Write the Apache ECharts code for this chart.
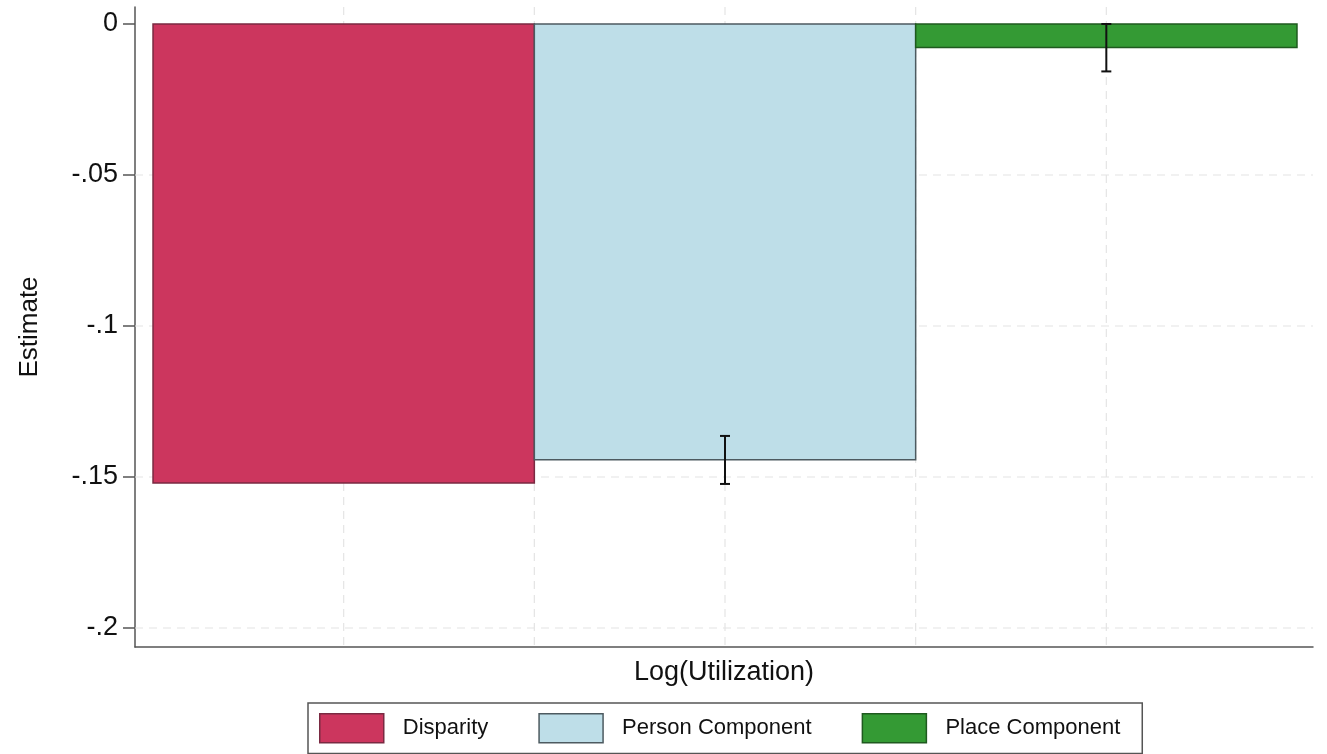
<!DOCTYPE html>
<html>
<head>
<meta charset="utf-8">
<script src="https://cdn.jsdelivr.net/npm/echarts@6/dist/echarts.min.js"></script>
<style>
  html, body { margin: 0; padding: 0; background: #fff; }
  #chart { width: 1327px; height: 754px; }
</style>
</head>
<body>
<div id="chart"></div>
<script>
// values
const categories = ['Disparity', 'Person Component', 'Place Component'];
const estimates = [-0.152, -0.1443, -0.0078];
const ciLower = [null, -0.1523, -0.0157];
const ciUpper = [null, -0.1364, 0.0];
const yTicks = [0, -0.05, -0.1, -0.15, -0.2];
const yTickLabels = ['0', '-.05', '-.1', '-.15', '-.2'];
const xGridAt = [1, 2, 3, 4, 5];   // bar centres and bar boundaries (bar i spans 2i..2i+2)

const fills = ['#cc365e', '#bedee8', '#349a34'];
const borders = ['#7a2a42', '#4d5a60', '#1f5a1f'];
const FONT = "'Liberation Sans', Arial, Helvetica, sans-serif";
const TEXT = '#111';

const chart = echarts.init(document.getElementById('chart'));

const gridStyle = { stroke: '#e4e4e4', lineWidth: 1.2, lineDash: [8, 6] };

// dashed background grid drawn from the scales
const hGridSeries = {
  type: 'custom',
  z: 1,
  silent: true,
  data: yTicks.slice(1).map(v => [0, v]),
  renderItem: (params, api) => {
    const cs = params.coordSys;
    const y = api.coord([0, api.value(1)])[1];
    return { type: 'line', shape: { x1: cs.x, y1: y, x2: cs.x + cs.width, y2: y }, style: gridStyle };
  }
};
const vGridSeries = {
  type: 'custom',
  z: 1,
  silent: true,
  data: xGridAt.map(v => [v, 0]),
  renderItem: (params, api) => {
    const cs = params.coordSys;
    const x = api.coord([api.value(0), 0])[0];
    return { type: 'line', shape: { x1: x, y1: cs.y, x2: x, y2: cs.y + cs.height }, style: gridStyle };
  }
};

const barSeries = categories.map((name, i) => ({
  type: 'custom',
  name,
  z: 2,
  data: [[i, estimates[i]]],
  renderItem: (params, api) => {
    const idx = api.value(0);
    const p0 = api.coord([idx * 2, 0]);
    const p1 = api.coord([idx * 2 + 2, api.value(1)]);
    const children = [{
      type: 'rect',
      shape: { x: p0[0], y: p0[1], width: p1[0] - p0[0], height: p1[1] - p0[1] },
      style: { fill: fills[idx], stroke: borders[idx], lineWidth: 1.5 }
    }];
    const lo = ciLower[idx], hi = ciUpper[idx];
    if (lo != null && hi != null) {
      const a = api.coord([idx * 2 + 1, lo]);
      const b = api.coord([idx * 2 + 1, hi]);
      const st = { stroke: '#111', lineWidth: 2 };
      children.push(
        { type: 'line', shape: { x1: a[0], y1: a[1], x2: b[0], y2: b[1] }, style: st },
        { type: 'line', shape: { x1: a[0] - 5, y1: a[1], x2: a[0] + 5, y2: a[1] }, style: st },
        { type: 'line', shape: { x1: b[0] - 5, y1: b[1], x2: b[0] + 5, y2: b[1] }, style: st }
      );
    }
    return { type: 'group', children };
  }
}));

const option = {
  backgroundColor: '#fff',
  animation: false,
  textStyle: { fontFamily: FONT },
  grid: { left: 135, right: 14, top: 7, bottom: 107, containLabel: false },
  xAxis: {
    type: 'value',
    min: -0.0945,
    max: 6.084,
    name: 'Log(Utilization)',
    nameLocation: 'middle',
    nameGap: 12,
    nameTextStyle: { fontSize: 27, color: TEXT, fontFamily: FONT, verticalAlign: 'top' },
    axisLine: { show: true, onZero: false, lineStyle: { color: '#555', width: 1.5 } },
    axisTick: { show: false },
    axisLabel: { show: false },
    splitLine: { show: false }
  },
  yAxis: {
    type: 'value',
    min: -0.20629,
    max: 0.00563,
    name: 'Estimate',
    nameLocation: 'middle',
    nameRotate: 90,
    nameGap: 92,
    nameTextStyle: { fontSize: 26, color: TEXT, fontFamily: FONT },
    axisLine: { show: true, onZero: false, lineStyle: { color: '#555', width: 1.5 } },
    axisTick: { show: true, customValues: yTicks, length: 12, lineStyle: { color: '#555', width: 1.5 } },
    axisLabel: {
      customValues: yTicks,
      margin: 17,
      fontSize: 27,
      color: TEXT,
      fontFamily: FONT,
      formatter: (v) => {
        const k = yTicks.findIndex(t => Math.abs(t - v) < 1e-9);
        return k >= 0 ? yTickLabels[k] : '';
      }
    },
    splitLine: { show: false }
  },
  legend: {
    left: 308,
    top: 703,
    orient: 'horizontal',
    padding: [10, 22, 10, 11],
    itemGap: 50,
    itemWidth: 64,
    itemHeight: 29,
    borderColor: '#555',
    borderWidth: 1.5,
    selectedMode: false,
    textStyle: { fontSize: 22, color: TEXT, fontFamily: FONT, padding: [0, 0, 0, 14] },
    data: categories.map((name, i) => ({
      name,
      icon: 'rect',
      itemStyle: { color: fills[i], borderColor: borders[i], borderWidth: 1.5 }
    }))
  },
  series: [hGridSeries, vGridSeries].concat(barSeries)
};

chart.setOption(option);
</script>
</body>
</html>
